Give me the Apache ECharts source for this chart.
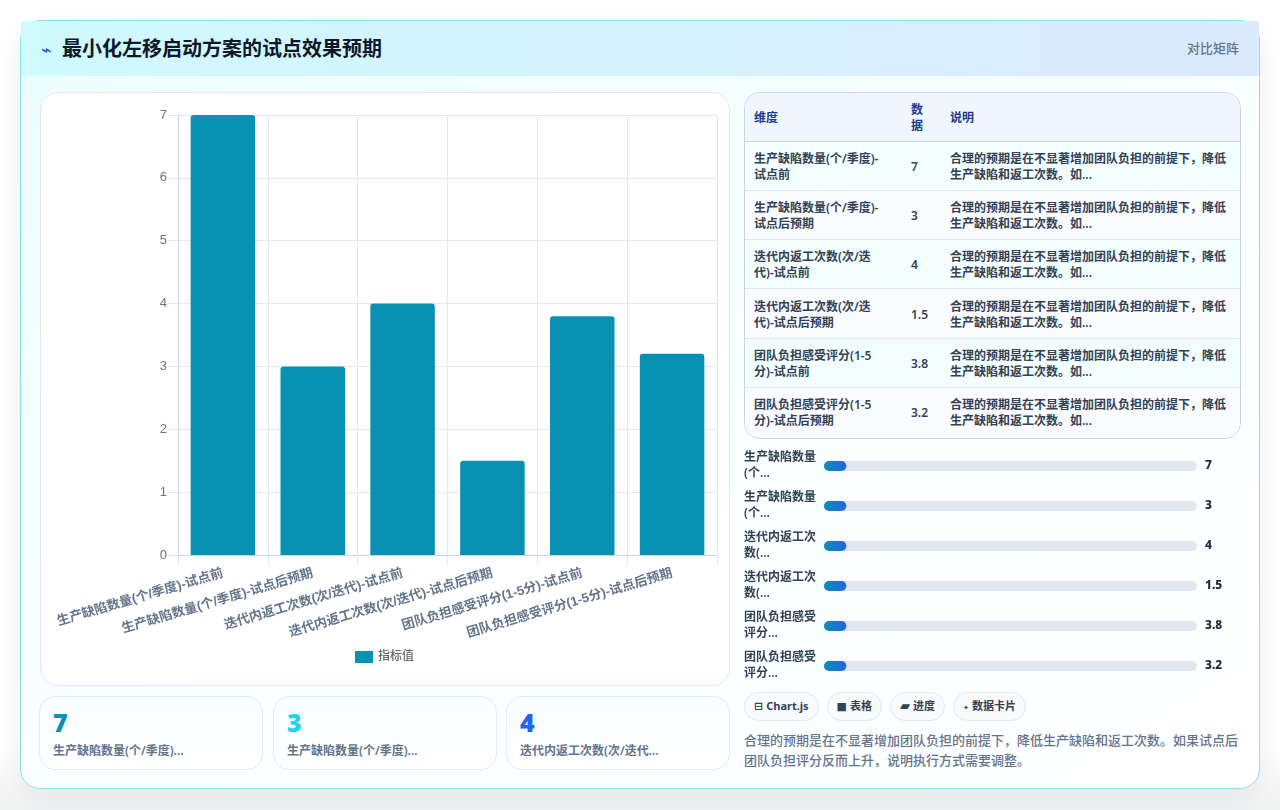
<!DOCTYPE html>
<html lang="zh-CN">
<head>
<meta charset="utf-8">
<title>最小化左移启动方案的试点效果预期</title>
<script src="https://cdn.jsdelivr.net/npm/echarts@6/dist/echarts.min.js"></script>
<style>
*{box-sizing:border-box;margin:0;padding:0}
html,body{width:1280px;height:810px;overflow:hidden;background:linear-gradient(180deg,#ffffff 0%,#ffffff 92%,#f1f2f3 100%);font-family:"Noto Sans","Noto Sans CJK SC",sans-serif;color:#0f172a}
.card{position:absolute;left:20px;top:20px;width:1240px;height:769px;border:1px solid #86e2ee;border-radius:20px;background:linear-gradient(150deg,#ecfeff 0%,#f8feff 45%,#ffffff 100%);box-shadow:0 10px 30px rgba(15,23,42,.07)}
.head{position:absolute;left:0;top:0;width:1238px;height:55px;background:linear-gradient(90deg,#cffafe,#dbeafe)}
.icon{position:absolute;left:20px;top:19px;font-size:18px;line-height:20px;color:#1d4ed8;font-family:"DejaVu Sans"}
.title{position:absolute;left:41px;top:14px;font-size:20px;line-height:28px;font-weight:700;color:#0f172a}
.tag{position:absolute;right:20px;top:18px;font-size:13px;line-height:18px;font-weight:500;color:#64748b}
.panel{position:absolute;left:19px;top:71px;width:690px;height:594px;background:#fff;border:1px solid #e2e8f0;border-radius:18px}
#bars{position:absolute;left:0;top:0;width:688px;height:592px}
.stat{position:absolute;top:675px;width:223.5px;height:74px;border:1px solid #e0ecf8;border-radius:16px;background:linear-gradient(180deg,#f8fdff,#ffffff)}
.stat b{position:absolute;left:13px;top:9px;font-size:25px;line-height:32px;font-weight:900}
.stat span{position:absolute;left:13px;top:45px;font-size:12px;line-height:17px;font-weight:600;color:#64748b;white-space:nowrap}
.tbl{position:absolute;left:723px;top:71px;width:497px;height:347px;border:1px solid #cbd5e1;border-radius:16px;overflow:hidden;background:#fff}
table{border-collapse:collapse;width:495px;table-layout:fixed;font-size:12px;line-height:16px}
th{height:48px;background:#eff6ff;color:#1e3a8a;font-weight:600;text-align:left;padding:2px 9px 0;border-bottom:1px solid #cbd5e1}
td{height:49.3px;padding:2px 9px 0;font-weight:600;color:#334155;border-bottom:1px solid #e2e8f0}
td:first-child{padding-right:18px}
tr:last-child td{border-bottom:0}
tbody tr:nth-child(odd) td{background:#f3feff}
tbody tr:nth-child(even) td{background:#f9fbfe}
#progress{position:absolute;left:723px;top:425px;width:497px;height:240px}
.chips{position:absolute;left:723px;top:671px;display:flex;gap:8px}
.chip{height:29px;padding:0 9px;border:1px solid #e2e8f0;border-radius:15px;background:#f8fafc;font-size:11px;line-height:26px;font-weight:700;color:#334155;white-space:nowrap}
.chip i{font-style:normal;font-family:"DejaVu Sans";margin-right:3px}
.note{position:absolute;left:723px;top:709px;width:497px;font-size:13px;line-height:20px;font-weight:500;color:#64748b}
</style>
</head>
<body>
<div class="card">
  <div class="head">
    <span class="icon">⌁</span>
    <span class="title">最小化左移启动方案的试点效果预期</span>
    <span class="tag">对比矩阵</span>
  </div>
  <div class="panel"><div id="bars"></div></div>
  <div id="stats"></div>
  <div class="tbl"><table><colgroup><col style="width:157px"><col style="width:39px"><col></colgroup>
    <thead><tr><th>维度</th><th>数据</th><th>说明</th></tr></thead>
    <tbody id="rows"></tbody></table></div>
  <div id="progress"></div>
  <div class="chips" id="chips"></div>
  <div class="note" id="note"></div>
</div>
<script>
const categories = ['生产缺陷数量(个/季度)-试点前','生产缺陷数量(个/季度)-试点后预期','迭代内返工次数(次/迭代)-试点前','迭代内返工次数(次/迭代)-试点后预期','团队负担感受评分(1-5分)-试点前','团队负担感受评分(1-5分)-试点后预期'];
const values = [7, 3, 4, 1.5, 3.8, 3.2];
const seriesName = '指标值';
const valueTicks = [0, 1, 2, 3, 4, 5, 6, 7];
const progressLabels = ['生产缺陷数量\n(个...','生产缺陷数量\n(个...','迭代内返工次\n数(...','迭代内返工次\n数(...','团队负担感受\n评分...','团队负担感受\n评分...'];
const progressFill = [6, 6, 6, 6, 6, 6];
const statCards = [
  {value: '7', label: '生产缺陷数量(个/季度)...', color: '#0891b2', left: 18},
  {value: '3', label: '生产缺陷数量(个/季度)...', color: '#22d3ee', left: 252},
  {value: '4', label: '迭代内返工次数(次/迭代...', color: '#2563eb', left: 485}
];
const rowNote = '合理的预期是在不显著增加团队负担的前提下，降低生产缺陷和返工次数。如...';
const chipIcons = ['⊟', '■', '▰', '✦'];
const chipIconSizes = [11, 11, 13, 7];
const chipLabels = ['Chart.js', '表格', '进度', '数据卡片'];
const noteText = '合理的预期是在不显著增加团队负担的前提下，降低生产缺陷和返工次数。如果试点后团队负担评分反而上升，说明执行方式需要调整。';

document.getElementById('rows').innerHTML = categories.map((c, i) =>
  `<tr><td>${c}</td><td>${values[i]}</td><td>${rowNote}</td></tr>`).join('');
document.getElementById('stats').innerHTML = statCards.map(s =>
  `<div class="stat" style="left:${s.left}px"><b style="color:${s.color}">${s.value}</b><span>${s.label}</span></div>`).join('');
document.getElementById('chips').innerHTML = chipLabels.map((t, i) =>
  `<div class="chip"><i style="font-size:${chipIconSizes[i]}px">${chipIcons[i]}</i>${t}</div>`).join('');
document.getElementById('note').textContent = noteText;

const axisFont = '"Liberation Sans","Noto Sans CJK SC",sans-serif';
const barChart = echarts.init(document.getElementById('bars'), null, {renderer: 'canvas'});
barChart.setOption({
  animation: false,
  textStyle: {fontFamily: axisFont},
  grid: {left: 137, right: 12, top: 22, bottom: 130, outerBoundsMode: 'none'},
  legend: {
    data: [seriesName], top: 553, left: 309,
    itemWidth: 18, itemHeight: 12, itemGap: 5,
    icon: 'rect',
    textStyle: {color: '#666', fontSize: 12, fontWeight: 500, fontFamily: axisFont}
  },
  xAxis: {
    type: 'category', data: categories, boundaryGap: true,
    axisLine: {lineStyle: {color: '#cbd5e1'}},
    axisTick: {show: true, length: 10, alignWithLabel: false, lineStyle: {color: '#e2e8f0'}},
    splitLine: {show: true, lineStyle: {color: '#e2e8f0'}},
    axisLabel: {rotate: 16.5, interval: 0, margin: 18, color: '#64748b', fontSize: 13, fontWeight: 'bold', fontFamily: axisFont}
  },
  yAxis: {
    type: 'value', min: valueTicks[0], max: valueTicks[valueTicks.length - 1], interval: 1,
    axisLine: {show: true, lineStyle: {color: '#cbd5e1'}},
    axisTick: {show: true, length: 10, lineStyle: {color: '#e2e8f0'}},
    splitLine: {show: true, lineStyle: {color: '#e2e8f0'}},
    axisLabel: {margin: 11, color: '#64748b', fontSize: 13, fontFamily: axisFont}
  },
  series: [{
    name: seriesName, type: 'bar', data: values, barWidth: 64.5,
    itemStyle: {color: '#0891b2', borderRadius: [3, 3, 0, 0]}
  }]
});

const progressChart = echarts.init(document.getElementById('progress'), null, {renderer: 'canvas'});
progressChart.setOption({
  animation: false,
  textStyle: {fontFamily: '"Noto Sans","Noto Sans CJK SC",sans-serif'},
  grid: {left: 80, right: 44, top: 0, bottom: 0, outerBoundsMode: 'none'},
  xAxis: {type: 'value', min: 0, max: 100, show: false},
  yAxis: [{
    type: 'category', inverse: true, data: progressLabels,
    axisLine: {show: false}, axisTick: {show: false},
    axisLabel: {align: 'left', margin: 80, lineHeight: 16, padding: [4, 0, 0, 0], fontSize: 12, fontWeight: 600, color: '#334155'}
  }, {
    type: 'category', inverse: true, position: 'right', data: values,
    axisLine: {show: false}, axisTick: {show: false},
    axisLabel: {align: 'left', margin: 8, fontSize: 12, fontWeight: 800, color: '#1e293b'}
  }],
  series: [{
    type: 'bar', data: progressFill, barWidth: 10,
    showBackground: true,
    backgroundStyle: {color: '#e2e6ef', borderRadius: 5},
    itemStyle: {
      borderRadius: 5,
      color: new echarts.graphic.LinearGradient(0, 0, 1, 0, [{offset: 0, color: '#0891b2'}, {offset: 1, color: '#2563eb'}])
    }
  }]
});
</script>
</body>
</html>
